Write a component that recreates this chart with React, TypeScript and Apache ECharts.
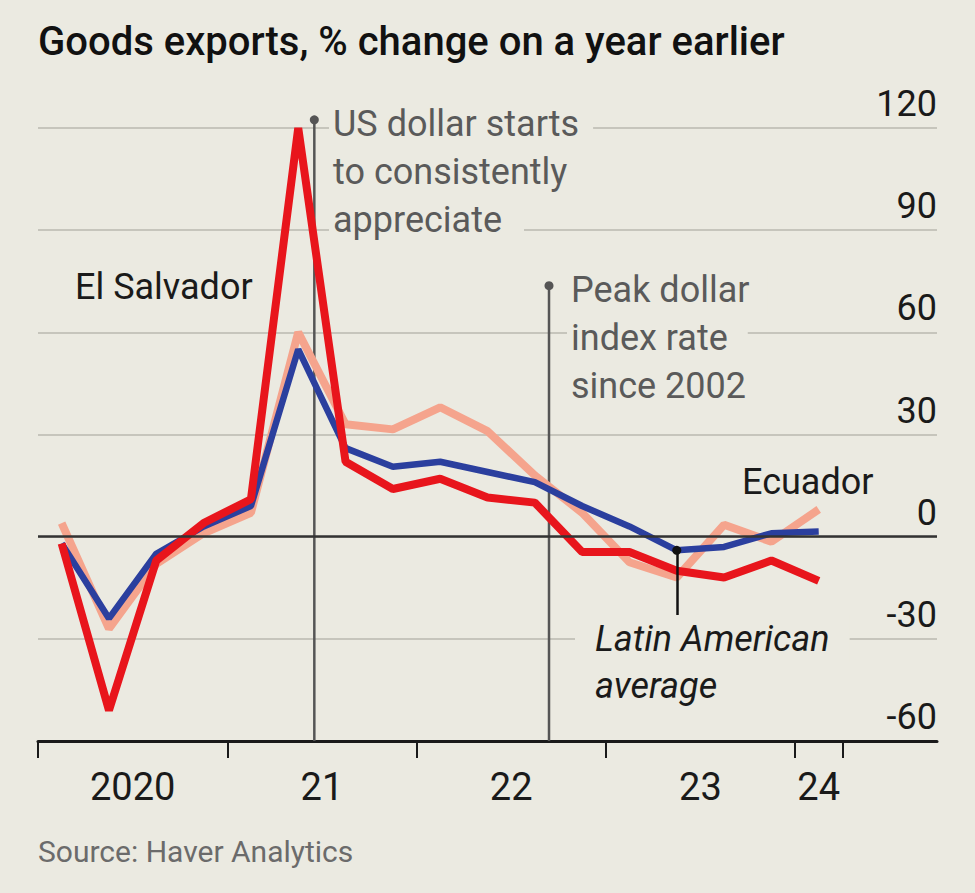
import React, { useEffect, useRef } from 'react';
import * as echarts from 'echarts';

// ---- data (quarterly, % change on a year earlier) ----
const quarters = [
  '2020Q1', '2020Q2', '2020Q3', '2020Q4',
  '2021Q1', '2021Q2', '2021Q3', '2021Q4',
  '2022Q1', '2022Q2', '2022Q3', '2022Q4',
  '2023Q1', '2023Q2', '2023Q3', '2023Q4',
  '2024Q1',
];
const elSalvador = [-2, -51, -7, 4, 11, 120, 22, 14, 17, 11.5, 10, -4.5, -4.5, -10, -12, -7, -13];
const ecuador = [4, -27, -8, 1, 7, 60, 33, 31.5, 38, 31, 18, 7, -7.5, -12, 3.5, -1.5, 8];
const latamAverage = [-2, -24, -5, 3, 9, 55, 26, 20.5, 22, 19, 16, 9, 3, -4, -3, 1, 1.5];
const years = ['2020', '2021', '2022', '2023', '2024'];
const yearLabels = ['2020', '21', '22', '23', '24'];
const yTicks = [-60, -30, 0, 30, 60, 90, 120];
// annotation events: [position in quarters from start of 2020, top of marker line]
const dollarStarts = [5.84, 122.4]; // late June 2021
const dollarPeak = [10.8, 73.7]; // Sept 2022
const avgPointer = [13.5, -23]; // pointer to the Latin American average, Q2 2023

const BG = '#ebeae1';
const FONT = 'Roboto, "Noto Sans", sans-serif';

export default function App() {
  const ref = useRef<HTMLDivElement>(null);
  useEffect(() => {
    document.body.style.margin = '0';
    const chart = echarts.init(ref.current!, null, { renderer: 'svg' });

    const toPts = (arr: number[]) => arr.map((v, i) => [i + 0.5, v]);
    const yearStart: number[] = [];
    const yearCenter: number[] = [];
    years.forEach((y) => {
      const idx = quarters.map((q, i) => (q.startsWith(y) ? i : -1)).filter((i) => i >= 0);
      yearStart.push(idx[0]);
      yearCenter.push((idx[0] + idx[idx.length - 1] + 1) / 2);
    });
    const tickValues = [...yearStart, quarters.length];
    const labelFor = (v: number) => {
      const k = yearCenter.findIndex((c) => Math.abs(c - v) < 1e-6);
      return k >= 0 ? yearLabels[k] : '';
    };

    const gray = '#5a5a5a';
    const txt = (text: string, x: number, y: number, extra: any = {}) => ({
      type: 'text',
      x,
      y,
      z: 1,
      style: {
        text,
        fontFamily: FONT,
        fontSize: 36,
        fill: '#1a1a1a',
        verticalAlign: 'top',
        lineHeight: 48,
        ...extra,
      },
    });
    const grayBox = (pr: number) => ({ fill: gray, backgroundColor: BG, padding: [0, pr, 0, 4] });

    const option: any = {
      animation: false,
      backgroundColor: BG,
      grid: { left: 38, right: 38, top: 128, bottom: 152, containLabel: false },
      xAxis: {
        type: 'value',
        min: 0,
        max: 19,
        axisLine: { onZero: false, lineStyle: { color: '#1a1a1a', width: 3 } },
        axisTick: {
          show: true,
          customValues: tickValues,
          length: 17,
          lineStyle: { color: '#1a1a1a', width: 2 },
        },
        axisLabel: {
          customValues: yearCenter,
          formatter: (v: number) => labelFor(v),
          fontFamily: FONT,
          fontSize: 38,
          color: '#1a1a1a',
          margin: 27,
          lineHeight: 38,
        },
        splitLine: { show: false },
      },
      yAxis: {
        type: 'value',
        position: 'right',
        min: yTicks[0],
        max: yTicks[yTicks.length - 1],
        interval: 30,
        axisLine: { show: false },
        axisTick: { show: false },
        splitLine: { lineStyle: { color: '#c6c5bc', width: 2 } },
        axisLabel: {
          inside: true,
          margin: 0,
          fontFamily: FONT,
          fontSize: 36,
          color: '#1a1a1a',
          verticalAlign: 'bottom',
          lineHeight: 36,
          padding: [0, 0, 6, 0],
        },
      },
      series: [
        {
          type: 'line',
          name: 'zero',
          data: [],
          z: 1,
          silent: true,
          markLine: {
            silent: true,
            animation: false,
            label: { show: false },
            symbol: ['none', 'none'],
            data: [
              [
                { coord: [0, 0], symbol: 'none', lineStyle: { color: '#333', width: 2.5, type: 'solid' } },
                { coord: [19, 0], symbol: 'none' },
              ],
            ],
          },
        },
        {
          type: 'custom',
          name: 'events',
          z: 1,
          silent: true,
          clip: false,
          data: [
            [dollarStarts[0], dollarStarts[1], yTicks[0]],
            [dollarPeak[0], dollarPeak[1], yTicks[0]],
          ],
          encode: { x: 0, y: [1, 2] },
          renderItem: (params: any, api: any) => {
            const top = api.coord([api.value(0), api.value(1)]);
            const bottom = api.coord([api.value(0), api.value(2)]);
            return {
              type: 'group',
              children: [
                {
                  type: 'line',
                  shape: { x1: top[0], y1: top[1], x2: bottom[0], y2: bottom[1] },
                  style: { stroke: '#555', lineWidth: 2.5 },
                },
                {
                  type: 'circle',
                  shape: { cx: top[0], cy: top[1], r: 4.5 },
                  style: { fill: '#555' },
                },
              ],
            };
          },
        },
        {
          type: 'line',
          name: 'Ecuador',
          data: toPts(ecuador),
          z: 2,
          showSymbol: false,
          symbol: 'none',
          lineStyle: { color: '#f5a48d', width: 8 },
        },
        {
          type: 'line',
          name: 'Latin American average',
          data: toPts(latamAverage),
          z: 3,
          showSymbol: false,
          symbol: 'none',
          lineStyle: { color: '#2b3f9e', width: 6.5 },
        },
        {
          type: 'line',
          name: 'El Salvador',
          data: toPts(elSalvador),
          z: 4,
          showSymbol: false,
          symbol: 'none',
          lineStyle: { color: '#e8151c', width: 8 },
          markLine: {
            silent: true,
            animation: false,
            label: { show: false },
            symbol: ['none', 'none'],
            data: [
              [
                { coord: [avgPointer[0], latamAverage[13]], symbol: 'circle', symbolSize: 9, lineStyle: { color: '#111', width: 2.5, type: 'solid' }, itemStyle: { color: '#111' } },
                { coord: [avgPointer[0], avgPointer[1]], symbol: 'none' },
              ],
            ],
          },
        },
      ],
      graphic: [
        {
          type: 'text',
          x: 38,
          y: 41,
          z: 1,
          style: {
            text: 'Goods exports, % change on a year earlier',
            fontFamily: FONT,
            fontSize: 40,
            fontWeight: 500,
            fill: '#111',
            verticalAlign: 'middle',
          },
        },
        txt('US dollar starts', 329, 100, grayBox(14)),
        txt('to consistently', 329, 148, grayBox(14)),
        txt('appreciate', 329, 196, grayBox(22)),
        txt('Peak dollar', 567, 266, grayBox(18)),
        txt('index rate', 567, 314, grayBox(20)),
        txt('since 2002', 567, 362, grayBox(18)),
        txt('El Salvador', 75, 263),
        txt('Ecuador', 742, 458),
        txt('Latin American', 575, 615, {
          fontStyle: 'italic',
          lineHeight: 47,
          backgroundColor: BG,
          padding: [0, 20, 0, 20],
        }),
        txt('average', 595, 662, { fontStyle: 'italic', lineHeight: 47 }),
        {
          type: 'text',
          x: 38,
          y: 851,
          z: 1,
          style: {
            text: 'Source: Haver Analytics',
            fontFamily: FONT,
            fontSize: 30,
            fill: '#6b6b6b',
            verticalAlign: 'middle',
          },
        },
      ],
    };
    chart.setOption(option);
    return () => chart.dispose();
  }, []);
  return <div ref={ref} style={{ width: 975, height: 893, background: BG }} />;
}
